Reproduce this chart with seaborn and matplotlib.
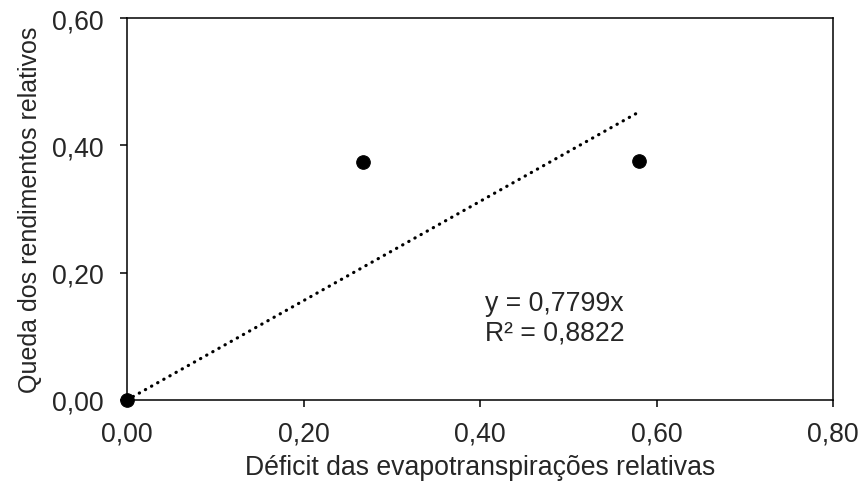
import numpy as np
import pandas as pd
import matplotlib
matplotlib.use("Agg")
import matplotlib.pyplot as plt
import seaborn as sns

sns.set_style("white")
plt.rcParams['font.family'] = ['Liberation Sans', 'DejaVu Sans']

# data
deficit_et = [0.0, 0.2675, 0.58]
queda_rend = [0.0, 0.374, 0.375]
slope = 0.7799
r2 = 0.8822
xticks = [0.0, 0.2, 0.4, 0.6, 0.8]
yticks = [0.0, 0.2, 0.4, 0.6]

df = pd.DataFrame({'x': deficit_et, 'y': queda_rend})
trend = pd.DataFrame({'x': [0.0, max(deficit_et)]})
trend['y'] = slope * trend['x']

fig = plt.figure(figsize=(8.61, 4.85), dpi=100)
ax = fig.add_axes([0.1475, 0.1732, 0.82, 0.7876])

sns.lineplot(data=trend, x='x', y='y', ax=ax, color='black', lw=2.3,
             linestyle=(0, (0.1, 2.1)), dash_capstyle='round', clip_on=False)
sns.scatterplot(data=df, x='x', y='y', ax=ax, color='black', s=95,
                edgecolor='black', clip_on=False, zorder=5)

fs = 19.2
ax.set_xlim(0, 0.8)
ax.set_ylim(0, 0.6)
ax.set_xticks(xticks)
ax.set_yticks(yticks)
ax.set_xticklabels([f"{v:.2f}".replace('.', ',') for v in xticks])
ax.set_yticklabels([f"{v:.2f}".replace('.', ',') for v in yticks])
ax.tick_params(axis='both', direction='out', length=5, width=1.1,
               color='black', labelsize=fs, bottom=True, left=True)
ax.tick_params(axis='x', pad=10)
ax.tick_params(axis='y', pad=12)
for sp in ax.spines.values():
    sp.set_color('black')
    sp.set_linewidth(1.1)

ax.set_xlabel('Déficit das evapotranspirações relativas', fontsize=fs, labelpad=5)
ax.set_ylabel('Queda dos rendimentos relativos', fontsize=18, labelpad=7)

ax.text(0.4057, 0.1414, f"y = {slope:.4f}x".replace('.', ','),
        fontsize=fs, ha='left', va='baseline')
ax.text(0.4057, 0.0958, f"R² = {r2:.4f}".replace('.', ','),
        fontsize=fs, ha='left', va='baseline')

fig.savefig('out.png', dpi=100)
